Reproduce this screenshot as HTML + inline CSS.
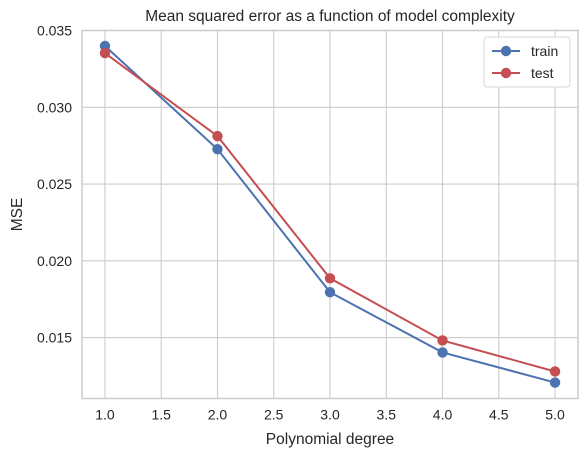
<!DOCTYPE html>
<html><head><meta charset="utf-8"><style>
body{margin:0;background:#fff;font-family:"Liberation Sans",sans-serif}
text{font-family:"Liberation Sans",sans-serif;fill:#262626}
</style></head><body>
<svg id="c" width="587" height="457"></svg>
<script>
const degrees=[1,2,3,4,5];
const trainMSE=[0.03399,0.02727,0.01795,0.01403,0.01207];
const testMSE=[0.03353,0.02812,0.01886,0.01481,0.01279];
const xTicks=[1.0,1.5,2.0,2.5,3.0,3.5,4.0,4.5,5.0];
const yTicks=[0.015,0.020,0.025,0.030,0.035];
const L=82,R=578,T=30.5,B=398.5;
const xMin=0.796,xMax=5.204,yMin=0.01103,yMax=0.035;
const sx=v=>L+(v-xMin)/(xMax-xMin)*(R-L);
const sy=v=>B-(v-yMin)/(yMax-yMin)*(B-T);
const svg=document.getElementById('c');const NS='http://www.w3.org/2000/svg';
function el(t,a,p){const e=document.createElementNS(NS,t);for(const k in a)e.setAttribute(k,a[k]);(p||svg).appendChild(e);return e;}
xTicks.forEach(v=>{const x=sx(v);
const g=el('line',{x1:x,x2:x,y1:T,y2:B,stroke:'#cccccc','stroke-width':1.1});


const t=el('text',{x:x,y:B+21,'text-anchor':'middle','font-size':14});t.textContent=v.toFixed(1);

});
yTicks.forEach(v=>{const y=sy(v);
const g=el('line',{x1:L,x2:R,y1:y,y2:y,stroke:'#cccccc','stroke-width':1.1});


const t=el('text',{x:L-10,y:y+5,'text-anchor':'end','font-size':14});t.textContent=v.toFixed(3);

});
const fr=el('rect',{x:L,y:T,width:R-L,height:B-T,fill:'none',stroke:'#cccccc','stroke-width':1.5});


function series(vals,color,name){
const pl=el('polyline',{points:degrees.map((d,i)=>sx(d)+','+sy(vals[i])).join(' '),fill:'none',stroke:color,'stroke-width':2});


degrees.forEach((d,i)=>{const c=el('circle',{cx:sx(d),cy:sy(vals[i]),r:5.2,fill:color});

});}
series(trainMSE,'#4c72b0','train');
series(testMSE,'#c44e52','test');
const title=el('text',{x:(L+R)/2,y:21,'text-anchor':'middle','font-size':15.5});title.textContent='Mean squared error as a function of model complexity';


const xl=el('text',{x:(L+R)/2,y:444,'text-anchor':'middle','font-size':15.5});xl.textContent='Polynomial degree';


const yl=el('text',{x:0,y:0,'text-anchor':'middle','font-size':15.5,transform:'translate(22,'+((T+B)/2)+') rotate(-90)'});yl.textContent='MSE';


const lg=el('g',{});


el('rect',{x:484,y:37,width:86,height:50,rx:3,fill:'#fff',stroke:'#d5d5d5'},lg);
[['train','#4c72b0',51],['test','#c44e52',73]].forEach(([n,c,y])=>{
el('line',{x1:492,x2:520,y1:y,y2:y,stroke:c,'stroke-width':2},lg);
el('circle',{cx:506,cy:y,r:5.2,fill:c},lg);
const t=el('text',{x:531,y:y+5,'font-size':14},lg);t.textContent=n;

});
</script>
</body></html>
